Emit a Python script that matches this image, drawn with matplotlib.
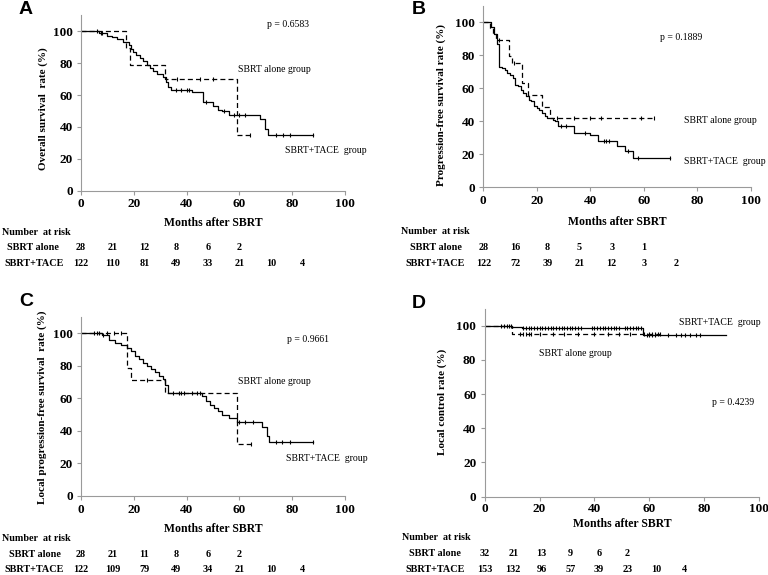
import numpy as np
import matplotlib
matplotlib.use("Agg")
import matplotlib.pyplot as plt
from matplotlib.transforms import blended_transform_factory

plt.rcParams['font.family'] = ['Liberation Serif', 'DejaVu Serif']

W, H = 768, 575

# ---- panel A : overall survival ----
a_alone_t = [0, 17, 18.5, 32, 59, 64]
a_alone_s = [100, 89.3, 78.6, 69.9, 34.9, 34.9]
a_alone_cens = [36.5, 45, 50, 64]
a_tace_t = [0, 7, 9.7, 11.6, 13.5, 16, 18, 19, 19.8, 21, 22.3, 23.6, 24.9, 26, 27.4,
            28.7, 31, 32.2, 33, 34, 42, 46.3, 50, 52, 53.3, 56, 67.8, 69.7, 71, 88]
a_tace_s = [100, 99, 97, 96, 95, 93, 91, 89, 87, 85, 83, 81, 79, 77, 75,
            73, 71, 68, 65, 63, 62, 55.5, 53, 50.7, 49.7, 47.6, 45, 39, 35, 35]
a_tace_cens = [6, 7.5, 8, 36, 38, 40, 41, 47.5, 54, 58, 60, 62, 74, 76.5, 79, 88]
a_risk_alone = [28, 21, 12, 8, 6, 2]
a_risk_tace = [122, 110, 81, 49, 33, 21, 10, 4]

# ---- panel B : progression-free survival ----
b_alone_t = [0, 2.5, 3.5, 4.6, 9.6, 10.8, 14.6, 16.7, 22, 25, 64]
b_alone_s = [100, 96.4, 92.9, 89.3, 79.4, 75, 63.3, 56, 48.8, 41.7, 41.7]
b_alone_cens = [6, 11.5, 27.5, 34, 40, 44, 59, 64]
b_tace_t = [0, 3, 4, 5.2, 5.9, 7, 8, 9, 10, 11, 12, 13, 14, 15, 16, 17, 18, 19, 20,
            21, 22, 23, 24, 26, 27, 28, 34, 40, 43, 50, 53, 56, 70]
b_tace_s = [100, 97, 92.5, 87, 73, 72, 71, 69, 68, 66, 62, 61, 59, 57, 55, 53, 52, 49, 48,
            47, 45, 43, 42, 41, 40, 37, 33, 31.7, 28, 25, 22.2, 17.5, 17.5]
b_tace_cens = [29, 31, 38, 45, 46, 47, 54, 58, 70]
b_risk_alone = [28, 16, 8, 5, 3, 1]
b_risk_tace = [122, 72, 39, 21, 12, 3, 2]

# ---- panel C : local progression-free survival ----
c_alone_t = [0, 17.3, 19, 32, 59, 64.5]
c_alone_s = [100, 78.6, 71.4, 63.5, 31.7, 31.7]
c_alone_cens = [10, 12.5, 15, 25, 38, 45, 64.5]
c_tace_t = [0, 8, 10.5, 13, 15, 17.3, 19, 20.5, 22, 23.5, 25, 26.5, 28, 29.5, 31, 32, 33,
            46, 47.5, 49, 50.5, 52, 53.5, 56, 59, 68.4, 70.3, 71.3, 88]
c_tace_s = [100, 99, 96, 94, 93, 91, 89, 86, 84, 82, 80, 78, 76, 74, 72, 68, 63.5,
            61.5, 58.5, 56, 54, 52, 50, 48, 45.5, 42.5, 36.5, 33, 33]
c_tace_cens = [5, 6, 7, 8.5, 35, 37, 39, 42, 44, 60, 62, 65, 74, 76, 79, 88]
c_risk_alone = [28, 21, 11, 8, 6, 2]
c_risk_tace = [122, 109, 79, 49, 34, 21, 10, 4]

# ---- panel D : local control ----
d_alone_t = [0, 10, 64]
d_alone_s = [100, 95.2, 95.2]
d_alone_cens = [13, 14, 15, 16, 17, 20, 25, 29, 34, 40, 45, 49, 53, 58, 60, 61, 62, 63, 64]
d_tace_t = [0, 10, 12, 13.5, 57.8, 88]
d_tace_s = [100, 99.5, 99, 98.4, 94.6, 94.6]
d_tace_cens = [6, 7, 8, 9, 9.5, 14, 15, 16, 17, 18, 19, 20, 21, 22, 23, 24, 25, 26, 27, 28,
               29, 30, 31, 32, 33, 34, 35, 39, 40, 41, 42, 43, 44, 45, 46, 47, 48, 49, 51,
               52, 53, 54, 55, 56, 57, 59, 60, 61, 62, 67, 69.6, 71.4, 73, 75, 76.9, 78.6]
d_risk_alone = [32, 21, 13, 9, 6, 2]
d_risk_tace = [153, 132, 96, 57, 39, 23, 10, 4]

panels = [
    dict(letter='A', ylabel='Overall survival  rate (%)', p='p = 0.6583',
         alone=(a_alone_t, a_alone_s, a_alone_cens), tace=(a_tace_t, a_tace_s, a_tace_cens),
         risk=(a_risk_alone, a_risk_tace), risk_step=12,
         rect=(81, 191, 264, 176), letter_xy=(25.5, 10), ylab_x=43, ylab_y=109,
         p_xy=(70.5, 104), alone_xy=(59.5, 76), tace_xy=(77.3, 25.2),
         rows=(204, 222.7, 232, 247.7, 263.3), row_x=(2, 33, 34)),
    dict(letter='B', ylabel='Progression-free survival rate (%)', p='p = 0.1889',
         alone=(b_alone_t, b_alone_s, b_alone_cens), tace=(b_tace_t, b_tace_s, b_tace_cens),
         risk=(b_risk_alone, b_risk_tace), risk_step=12,
         rect=(483.3, 187.3, 267.4, 181.8), letter_xy=(419, 10), ylab_x=440.7, ylab_y=105,
         p_xy=(66, 90.7), alone_xy=(75, 40.7), tace_xy=(75, 15.9),
         rows=(201, 221.7, 231, 247.7, 263.3), row_x=(401, 435.5, 435)),
    dict(letter='C', ylabel='Local progression-free survival  rate (%)', p='p = 0.9661',
         alone=(c_alone_t, c_alone_s, c_alone_cens), tace=(c_tace_t, c_tace_s, c_tace_cens),
         risk=(c_risk_alone, c_risk_tace), risk_step=12,
         rect=(81, 495.7, 264, 178.6), letter_xy=(26.5, 302), ylab_x=42, ylab_y=407,
         p_xy=(78, 96), alone_xy=(59.5, 70.4), tace_xy=(77.6, 23),
         rows=(510, 529.3, 538.3, 554.3, 570), row_x=(2, 35, 34)),
    dict(letter='D', ylabel='Local control rate (%)', p='p = 0.4239',
         alone=(d_alone_t, d_alone_s, d_alone_cens), tace=(d_tace_t, d_tace_s, d_tace_cens),
         risk=(d_risk_alone, d_risk_tace), risk_step=10.4,
         rect=(484.7, 496.5, 274.3, 187.9), letter_xy=(419, 304), ylab_x=442, ylab_y=401.5,
         p_xy=(83, 54.9), alone_xy=(19.8, 83.8), tace_xy=(70.8, 101.8),
         rows=(509, 524, 537.3, 553.3, 570), row_x=(402, 435, 435)),
]


def step_value(t, s, c):
    i = np.searchsorted(t, c, side='right') - 1
    return np.asarray(s)[i]


def km(ax, t, s, cens, ls):
    ax.plot(t, s, drawstyle='steps-post', color='black', lw=0.9, ls=ls)
    ax.plot(cens, step_value(t, s, cens), ls='none', marker='|', ms=3.5,
            mew=0.8, color='black')


fig = plt.figure(figsize=(W / 100, H / 100), dpi=100)

for pn in panels:
    left, bottom, w, h = pn['rect']
    ax = fig.add_axes([left / W, 1 - bottom / H, w / W, h / H])
    km(ax, *pn['tace'], ls='-')
    km(ax, *pn['alone'], ls=(0, (4, 2.5)))

    ax.set_xlim(0, 100)
    ax.set_ylim(0, 110)
    ax.set_xticks([0, 20, 40, 60, 80, 100])
    ax.set_yticks([0, 20, 40, 60, 80, 100])
    ax.set_xticklabels([])
    for side in ['top', 'right']:
        ax.spines[side].set_visible(False)
    for side in ['left', 'bottom']:
        ax.spines[side].set_color('#9a9a9a')
        ax.spines[side].set_linewidth(0.8)
    ax.tick_params(colors='#9a9a9a', length=3, width=0.8, labelcolor='black',
                   labelsize=9.5, pad=3)
    for lab in ax.get_yticklabels():
        lab.set_fontweight('bold')

    ax.set_ylabel(pn['ylabel'], fontsize=8, fontweight='bold', va='center')
    ax.yaxis.set_label_coords((pn['ylab_x'] - left) / w, (bottom - pn['ylab_y']) / h)

    ax.text(*pn['p_xy'], pn['p'], fontsize=7, va='center', ha='left')
    ax.text(*pn['alone_xy'], 'SBRT alone group', fontsize=7, va='center', ha='left')
    ax.text(*pn['tace_xy'], 'SBRT+TACE  group', fontsize=7, va='center', ha='left')

    fig.text(pn['letter_xy'][0] / W, 1 - pn['letter_xy'][1] / H, pn['letter'],
             family='Liberation Sans', fontweight='bold', fontsize=14,
             ha='center', va='center')

    # x tick labels, x label and number at risk table
    tick_y, xlab_y, nar_y, row1_y, row2_y = pn['rows']
    tr = blended_transform_factory(ax.transData, fig.transFigure)
    for v in [0, 20, 40, 60, 80, 100]:
        ax.text(v, 1 - tick_y / H, str(v), transform=tr, ha='center', va='center',
                fontsize=9.5, fontweight='bold')
    ax.text(50, 1 - xlab_y / H, 'Months after SBRT', transform=tr, ha='center',
            va='center', fontsize=8.5, fontweight='bold')

    nar_x, r1_x, r2_x = pn['row_x']
    fig.text(nar_x / W, 1 - nar_y / H, 'Number  at risk', ha='left', va='center',
             fontsize=7.3, fontweight='bold')
    fig.text(r1_x / W, 1 - row1_y / H, 'SBRT alone', ha='center', va='center',
             fontsize=7.3, fontweight='bold')
    fig.text(r2_x / W, 1 - row2_y / H, 'SBRT+TACE', ha='center', va='center',
             fontsize=7.3, fontweight='bold')
    risk_alone, risk_tace = pn['risk']
    for i, n in enumerate(risk_alone):
        ax.text(i * pn['risk_step'], 1 - row1_y / H, str(n), transform=tr,
                ha='center', va='center', fontsize=7.3, fontweight='bold')
    for i, n in enumerate(risk_tace):
        ax.text(i * pn['risk_step'], 1 - row2_y / H, str(n), transform=tr,
                ha='center', va='center', fontsize=7.3, fontweight='bold')

fig.savefig('out.png', dpi=100)
